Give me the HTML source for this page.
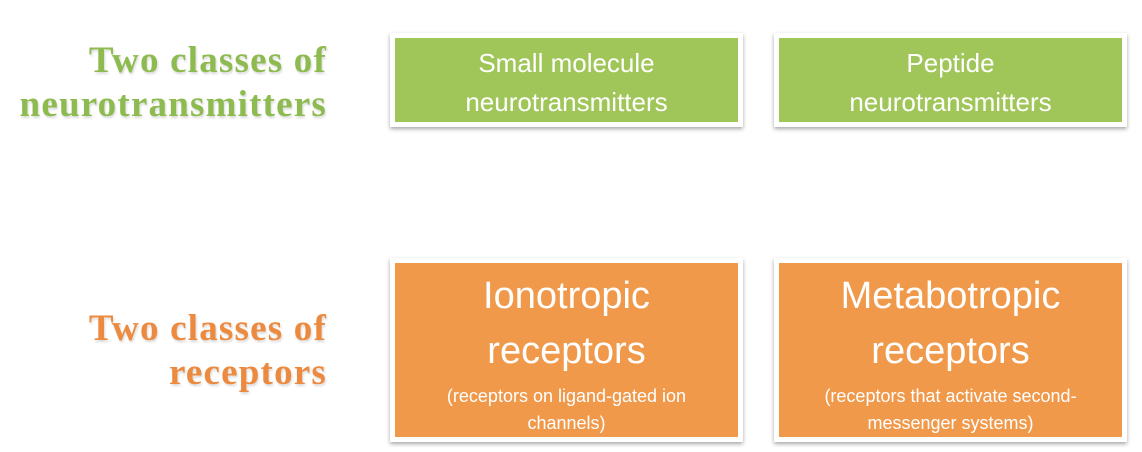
<!DOCTYPE html>
<html><head><style>
body{margin:0;width:1142px;height:452px;background:#fff;position:relative;overflow:hidden;font-family:"Liberation Sans",sans-serif}
.lab{position:absolute;right:815px;text-align:right;font-family:"Liberation Serif",serif;font-weight:bold;font-size:37px;letter-spacing:1.2px;line-height:44px;text-shadow:1px 2px 2px rgba(0,0,0,0.15)}
.box{position:absolute;box-sizing:border-box;border:5px solid #fff;box-shadow:0 2px 4px rgba(0,0,0,0.35);color:#fff;text-align:center;display:flex;flex-direction:column;justify-content:center}
.g{background:#a0c65a;font-size:26px;line-height:39px;top:33px;height:94px;padding-top:6px}
.o{background:#f1994b;top:258px;height:184px;padding-top:6px}
.big{font-size:38px;line-height:55px}
.sm{font-size:18px;line-height:27px;margin-top:4px}
</style></head><body>
<div class="lab" style="top:39px;color:#8dbb50">Two classes of<br>neurotransmitters</div>
<div class="lab" style="top:307px;color:#ec8a3f">Two classes of<br>receptors</div>
<div class="box g" style="left:390px;width:353px">Small molecule<br>neurotransmitters</div>
<div class="box g" style="left:774px;width:353px">Peptide<br>neurotransmitters</div>
<div class="box o" style="left:390px;width:353px"><div class="big">Ionotropic<br>receptors</div><div class="sm">(receptors on ligand-gated ion<br>channels)</div></div>
<div class="box o" style="left:774px;width:353px"><div class="big">Metabotropic<br>receptors</div><div class="sm">(receptors that activate second-<br>messenger systems)</div></div>
</body></html>
